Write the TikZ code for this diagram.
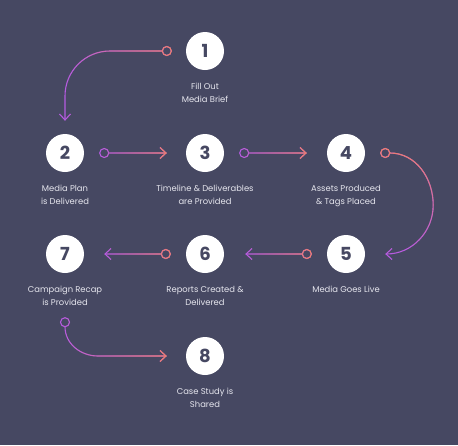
\documentclass[tikz,border=0pt]{standalone}
\usepackage{fontspec}
\setmainfont{Poppins}
\usetikzlibrary{arrows.meta,positioning,fadings}
\definecolor{slate}{HTML}{464862}
\definecolor{plum}{HTML}{B65BE2}
\definecolor{coral}{HTML}{EE806A}
\definecolor{chalk}{HTML}{E6E6EE}
\tikzset{
  stepdot/.style={
    circle, fill=white, minimum size=38pt, inner sep=0pt,
    text=slate, font=\fontsize{18}{18}\selectfont\bfseries
  },
  steptext/.style={
    text=chalk, font=\fontsize{8.4}{13}\selectfont,
    align=center, inner sep=0pt
  },
  flow/.style={
    line width=1.1pt, draw=plum,
    -{Straight Barb[length=6pt,width=11pt]},
    postaction={draw=coral, path fading=#1}
  },
  flow/.default=west,
}

\begin{document}
\begin{tikzpicture}[x=1pt, y=1pt, node distance=13pt]
  \fill[slate] (0,0) rectangle (458,-445);
  \useasboundingbox (0,0) rectangle (458,-445);

  % Steps
  \node[stepdot] (n1) at (205,-51) {1};
  \node[stepdot] (n2) at (65,-153) {2};
  \node[stepdot] (n3) at (205,-153) {3};
  \node[stepdot] (n4) at (346,-153) {4};
  \node[stepdot] (n5) at (346,-254) {5};
  \node[stepdot] (n6) at (205,-254) {6};
  \node[stepdot] (n7) at (65,-254) {7};
  \node[stepdot] (n8) at (205,-356) {8};

  % Captions
  \node[steptext, below=of n1] (l1) {Fill Out\\Media Brief};
  \node[steptext, below=of n2] (l2) {Media Plan\\is Delivered};
  \node[steptext, below=of n3] (l3) {Timeline \& Deliverables\\are Provided};
  \node[steptext, below=of n4] (l4) {Assets Produced\\\& Tags Placed};
  \node[steptext, below=of n5] (l5) {Media Goes Live};
  \node[steptext, below=of n6] (l6) {Reports Created \&\\Delivered};
  \node[steptext, below=of n7] (l7) {Campaign Recap\\is Provided};
  \node[steptext, below=of n8] (l8) {Case Study is\\Shared};

  % Connector ends
  \coordinate (r12) at ([xshift=-19pt]n1.west);
  \coordinate (t12) at ([yshift=13pt]n2.north);
  \coordinate (c12) at ([xshift=45pt]t12 |- r12);
  \coordinate (d12) at ([yshift=-45pt]t12 |- r12);
  \coordinate (r23) at ([xshift=20pt]n2.east);
  \coordinate (t23) at ([xshift=-19pt]n3.west);
  \coordinate (r34) at ([xshift=20pt]n3.east);
  \coordinate (t34) at ([xshift=-20pt]n4.west);
  \coordinate (r45) at ([xshift=20pt]n4.east);
  \coordinate (t45) at ([xshift=20pt]n5.east);
  \coordinate (r56) at ([xshift=-20pt]n5.west);
  \coordinate (t56) at ([xshift=21pt]n6.east);
  \coordinate (r67) at ([xshift=-20pt]n6.west);
  \coordinate (t67) at ([xshift=20pt]n7.east);
  \coordinate (r78) at ([yshift=-49pt]n7.south);
  \coordinate (t78) at ([xshift=-19pt]n8.west);
  \coordinate (c78) at ([xshift=33pt]r78 |- t78);

  % Connectors
  \draw[flow] ([xshift=-4.5pt]r12)
    arc[start angle=180, end angle=-180, radius=4.5pt]
    -- (c12) to[out=180,in=90] (d12) -- (t12);
  \draw[flow] ([xshift=4.5pt]r23)
    arc[start angle=0, end angle=360, radius=4.5pt] -- (t23);
  \draw[flow] ([xshift=4.5pt]r34)
    arc[start angle=0, end angle=360, radius=4.5pt] -- (t34);
  \draw[flow=south] ([xshift=4.5pt]r45)
    arc[start angle=0, end angle=360, radius=4.5pt]
    to[out=0,in=90] ([xshift=48pt,yshift=-52pt]r45) to[out=-90,in=0] (t45);
  \draw[flow] ([xshift=-4.5pt]r56)
    arc[start angle=180, end angle=-180, radius=4.5pt] -- (t56);
  \draw[flow] ([xshift=-4.5pt]r67)
    arc[start angle=180, end angle=-180, radius=4.5pt] -- (t67);
  \draw[flow] ([yshift=-4.5pt]r78)
    arc[start angle=-90, end angle=270, radius=4.5pt]
    to[out=-90,in=180] (c78) -- (t78);
\end{tikzpicture}
\end{document}
